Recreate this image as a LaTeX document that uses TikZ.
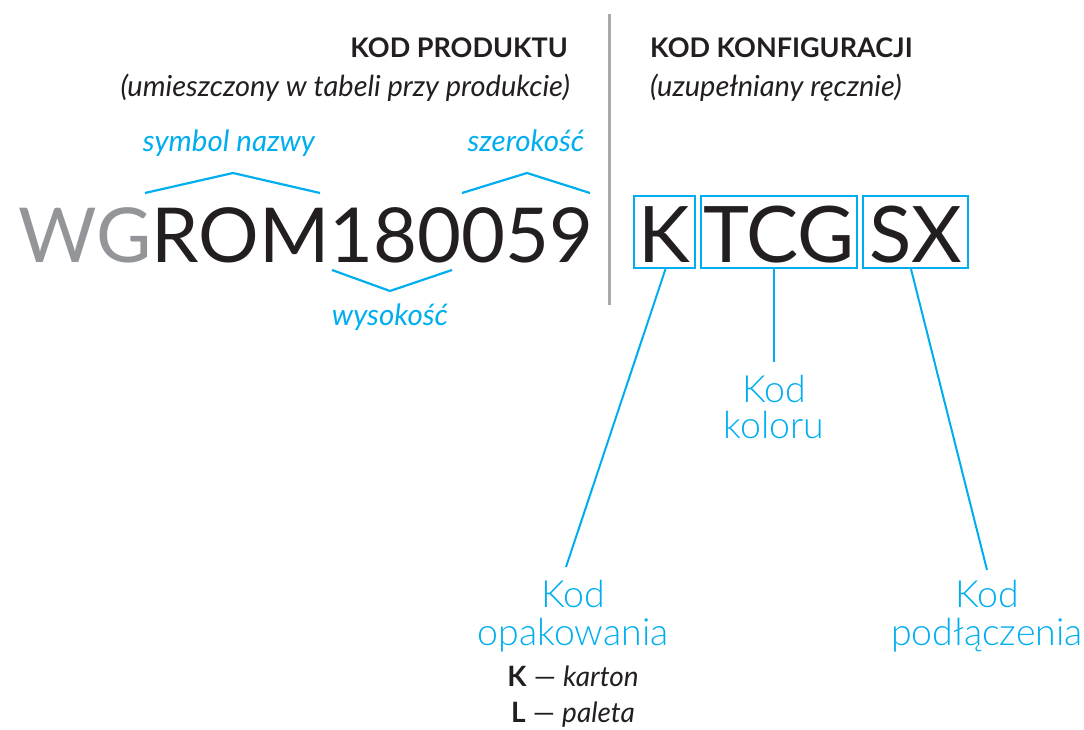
\documentclass[tikz,border=0pt]{standalone}
\usepackage{fontspec}
\setmainfont{Lato}
\newfontfamily\lalight{Lato Light}
\definecolor{cblue}{HTML}{00AEEF}
\definecolor{cgray}{HTML}{939598}
\definecolor{cblack}{HTML}{231F20}
\definecolor{cline}{HTML}{A7A9AC}
\tikzset{
  bigcode/.style={font=\fontsize{75.8}{80}\selectfont, text=cblack, inner sep=0pt},
  codebox/.style={draw=cblue, line width=2pt, text=cblack, font=\fontsize{78}{80}\selectfont, text height=60pt, text depth=0pt, inner ysep=6pt, inner xsep=0pt},
  bluelbl/.style={font=\fontsize{29.5}{32}\selectfont\itshape, text=cblue, inner sep=0pt},
  biglbl/.style={font=\lalight\fontsize{37.5}{40}\selectfont, text=cblue, inner sep=0pt},
  head/.style={font=\fontsize{27}{30}\selectfont\bfseries, text=cblack, inner sep=0pt},
  sub/.style={font=\fontsize{29}{32}\selectfont\itshape, text=cblack, inner sep=0pt},
  legend/.style={font=\fontsize{28}{30}\selectfont, text=cblack, inner sep=0pt},
  conn/.style={draw=cblue, line width=2pt},
  brk/.style={draw=cblue, line width=2.2pt},
}
\begin{document}
\begin{tikzpicture}[x=1pt,y=-1pt]
\useasboundingbox (0,0) rectangle (1084,730);
% separator
\draw[cline, line width=3pt] (609,14) -- (609,305);
% headings
\node[head, anchor=base east] (kp) at (568,58) {KOD PRODUKTU};
\node[sub, anchor=base east] (kps) at (570,97) {(umieszczony w tabeli przy produkcie)};
\node[head, anchor=base west] (kk) at (650,58) {KOD KONFIGURACJI};
\node[sub, anchor=base west] (kks) at (650,97) {(uzupełniany ręcznie)};
% product code
\node[bigcode, anchor=base west] (code) at (18,262) {\textcolor{cgray}{WG}ROM180059};
% brackets
\draw[brk] (145,193) -- (233,173) -- (320,193);
\draw[brk] (462,193) -- (527,173) -- (590,193);
\draw[brk] (332,270) -- (390,291) -- (452,270);
\node[bluelbl, anchor=base] (sn) at (229,152) {symbol nazwy};
\node[bluelbl, anchor=base] (sz) at (526,152) {szerokość};
\node[bluelbl, anchor=base] (wy) at (390,325) {wysokość};
% config boxes
\node[codebox, anchor=base, minimum width=61pt] (bk) at (664.5,262) {K};
\node[codebox, anchor=base, minimum width=156pt] (bt) at (779,262) {TCG};
\node[codebox, anchor=base, minimum width=105pt] (bs) at (915.5,262) {SX};
% labels
\node[biglbl, anchor=base] (lop1) at (573,607) {Kod};
\node[biglbl, anchor=base] (lop2) at (573,645) {opakowania};
\node[biglbl, anchor=base] (lko1) at (774,402) {Kod};
\node[biglbl, anchor=base] (lko2) at (774,438) {koloru};
\node[biglbl, anchor=base] (lpo1) at (987,607) {Kod};
\node[biglbl, anchor=base] (lpo2) at (987,645) {podłączenia};
\node[legend, anchor=base] (kar) at (573,686) {\textbf{K} --- \textit{karton}};
\node[legend, anchor=base] (pal) at (573,722) {\textbf{L} --- \textit{paleta}};
% connectors
\coordinate (eop) at (566,567);
\coordinate (eko) at (774,362);
\coordinate (epo) at (987,570);
\draw[conn] ([xshift=1pt]bk.south) -- (eop);
\draw[conn] ([xshift=-5pt]bt.south) -- (eko);
\draw[conn] ([xshift=-4.5pt]bs.south) -- (epo);
\end{tikzpicture}
\end{document}
